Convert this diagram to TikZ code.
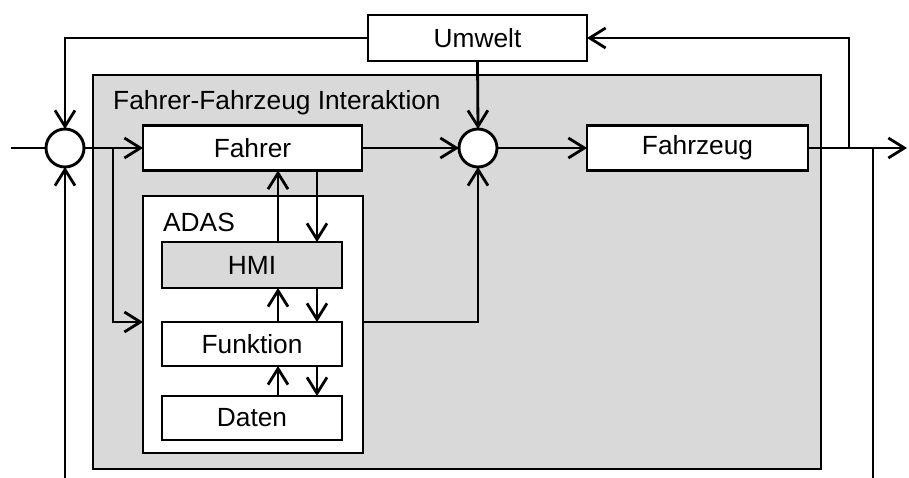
\documentclass[tikz,border=0pt]{standalone}
\usepackage{fontspec}
\setmainfont{Liberation Sans}
\usetikzlibrary{arrows.meta}
\definecolor{panelgray}{HTML}{D9D9D9}
\begin{document}
\begin{tikzpicture}[x=1pt,y=-1pt,
  txt/.style={font=\fontsize{26.3}{30}\selectfont},
  blk/.style={draw, line width=2.9pt, fill=white, inner sep=0pt, outer sep=0pt, txt},
  sumpt/.style={circle, draw, line width=2.9pt, fill=white, minimum size=38pt, inner sep=0pt, outer sep=0pt},
  wire/.style={line width=2.8pt},
  arr/.style={wire, -{Straight Barb[length=16pt,width=20pt]}},
  lbl/.style={txt, inner sep=0pt, anchor=base west}
]
\useasboundingbox (0,0) rectangle (909,478);

% outer interaction panel
\node[blk, fill=panelgray, minimum width=728pt, minimum height=394pt] (ffi) at (457,272) {};
\node[lbl] (ffilbl) at (113,110) {Fahrer-Fahrzeug Interaktion};

% blocks
\node[blk, minimum width=219pt, minimum height=46pt] (umwelt) at (477.5,38) {Umwelt};
\node[blk, minimum width=219pt, minimum height=45pt] (fahrer) at (252.5,148) {Fahrer};
\node[blk, minimum width=221pt, minimum height=45pt] (fahrzeug) at (697.5,148) {Fahrzeug};

% driver assistance system
\node[blk, minimum width=220pt, minimum height=257pt] (adas) at (253,324.5) {};
\node[lbl] (adaslbl) at (163,232) {ADAS};
\node[blk, fill=panelgray, minimum width=180pt, minimum height=46pt] (hmi) at (252,265) {HMI};
\node[blk, minimum width=180pt, minimum height=44pt] (funktion) at (252,344) {Funktion};
\node[blk, minimum width=180pt, minimum height=44pt] (daten) at (252,418) {Daten};

% summing points
\node[sumpt] (s1) at (65,148) {};
\node[sumpt] (s2) at (478,148) {};

% helper coordinates
\coordinate (xup) at (278,0);
\coordinate (xdn) at (317,0);
\coordinate (in) at (11,148);
\coordinate (out) at (907,148);
\coordinate (br1) at (113,148);
\coordinate (fbu) at (849,148);
\coordinate (fbd) at (873,148);
\coordinate (botl) at (65,478);
\coordinate (botr) at (873,478);

% signal flow
\draw[wire] (in) -- (s1.west);
\draw[arr] (s1.east) -- (fahrer.west);
\draw[arr] (br1) |- (adas.west |- funktion.north);
\draw[arr] (fahrer.east) -- (s2.west);
\draw[arr] (umwelt.south) -- (s2.north);
\draw[arr] (adas.east |- funktion.north) -| (s2.south);
\draw[arr] (s2.east) -- (fahrzeug.west);
\draw[arr] (fahrzeug.east) -- (out);
\draw[arr] (fbu) |- (umwelt.east);
\draw[arr] (umwelt.west) -| (s1.north);
\draw[wire] (fbd) -- (botr);
\draw[arr] (botl) -- (s1.south);

% inner ADAS exchange
\draw[arr] (hmi.north -| xup) -- (fahrer.south -| xup);
\draw[arr] (fahrer.south -| xdn) -- (hmi.north -| xdn);
\draw[arr] (funktion.north -| xup) -- (hmi.south -| xup);
\draw[arr] (hmi.south -| xdn) -- (funktion.north -| xdn);
\draw[arr] (daten.north -| xup) -- (funktion.south -| xup);
\draw[arr] (funktion.south -| xdn) -- (daten.north -| xdn);
\end{tikzpicture}
\end{document}
